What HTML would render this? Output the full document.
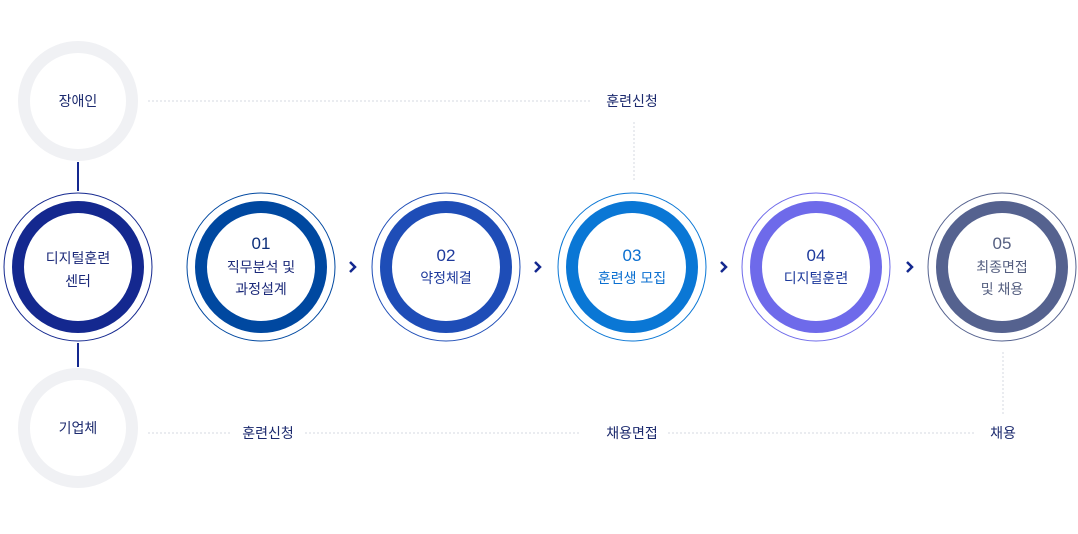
<!DOCTYPE html>
<html><head><meta charset="utf-8"><style>
body{margin:0;width:1078px;height:529px;background:#fff;overflow:hidden;font-family:"Liberation Sans","Noto Sans CJK KR",sans-serif}
svg text{font-family:"Liberation Sans","Noto Sans CJK KR",sans-serif}
</style></head><body>
<svg width="1078" height="529">
<g>
<line x1="78" y1="162" x2="78" y2="191" stroke="#14288f" stroke-width="2"/>
<line x1="78" y1="343" x2="78" y2="367" stroke="#14288f" stroke-width="2"/>
<line x1="148" y1="101" x2="590" y2="101" stroke="#d5d9e0" stroke-dasharray="2,2"/>
<line x1="634" y1="122" x2="634" y2="182" stroke="#d5d9e0" stroke-dasharray="2,2"/>
<line x1="148" y1="433" x2="230" y2="433" stroke="#d5d9e0" stroke-dasharray="2,2"/>
<line x1="305" y1="433" x2="580" y2="433" stroke="#d5d9e0" stroke-dasharray="2,2"/>
<line x1="668" y1="433" x2="975" y2="433" stroke="#d5d9e0" stroke-dasharray="2,2"/>
<line x1="1003" y1="352" x2="1003" y2="415" stroke="#d5d9e0" stroke-dasharray="2,2"/>
</g>
<g>
<circle cx="78" cy="101" r="54" fill="none" stroke="#f0f1f4" stroke-width="12"/>
<text x="78" y="106" text-anchor="middle" font-size="14" fill="#1c2a6e">장애인</text>
</g>
<g>
<circle cx="78" cy="428" r="54" fill="none" stroke="#f0f1f4" stroke-width="12"/>
<text x="78" y="433" text-anchor="middle" font-size="14" fill="#1c2a6e">기업체</text>
</g>
<g font-size="14" fill="#1c2a6e" text-anchor="middle">
<text x="632" y="106">훈련신청</text>
<text x="268" y="438">훈련신청</text>
<text x="632" y="438">채용면접</text>
<text x="1003" y="438">채용</text>
</g>
<g>
<circle cx="78" cy="267" r="74" fill="none" stroke="#14288f" stroke-width="1"/>
<circle cx="78" cy="267" r="60" fill="none" stroke="#14288f" stroke-width="12"/>
<text x="78" y="263" text-anchor="middle" font-size="14" fill="#1c2a7a">디지털훈련</text>
<text x="78" y="286" text-anchor="middle" font-size="14" fill="#1c2a7a">센터</text>
</g>
<g>
<circle cx="261" cy="267" r="74" fill="none" stroke="#0048a0" stroke-width="1"/>
<circle cx="261" cy="267" r="60" fill="none" stroke="#0048a0" stroke-width="12"/>
<text x="261" y="249" text-anchor="middle" font-size="17" fill="#0d2f7a">01</text>
<text x="261" y="272" text-anchor="middle" font-size="14" fill="#1c2a7a">직무분석 및</text>
<text x="261" y="294" text-anchor="middle" font-size="14" fill="#1c2a7a">과정설계</text>
</g>
<g>
<circle cx="446" cy="267" r="74" fill="none" stroke="#1e4db7" stroke-width="1"/>
<circle cx="446" cy="267" r="60" fill="none" stroke="#1e4db7" stroke-width="12"/>
<text x="446" y="261" text-anchor="middle" font-size="17" fill="#1e3a9c">02</text>
<text x="446" y="283" text-anchor="middle" font-size="14" fill="#1e3a9c">약정체결</text>
</g>
<g>
<circle cx="632" cy="267" r="74" fill="none" stroke="#0a77d5" stroke-width="1"/>
<circle cx="632" cy="267" r="60" fill="none" stroke="#0a77d5" stroke-width="12"/>
<text x="632" y="261" text-anchor="middle" font-size="17" fill="#0a6fd0">03</text>
<text x="632" y="283" text-anchor="middle" font-size="14" fill="#0a6fd0">훈련생 모집</text>
</g>
<g>
<circle cx="816" cy="267" r="74" fill="none" stroke="#6e6aea" stroke-width="1"/>
<circle cx="816" cy="267" r="60" fill="none" stroke="#6e6aea" stroke-width="12"/>
<text x="816" y="261" text-anchor="middle" font-size="17" fill="#1e3a9c">04</text>
<text x="816" y="283" text-anchor="middle" font-size="14" fill="#1e3a9c">디지털훈련</text>
</g>
<g>
<circle cx="1002" cy="267" r="74" fill="none" stroke="#55628f" stroke-width="1"/>
<circle cx="1002" cy="267" r="60" fill="none" stroke="#55628f" stroke-width="12"/>
<text x="1002" y="249" text-anchor="middle" font-size="17" fill="#555f80">05</text>
<text x="1002" y="272" text-anchor="middle" font-size="14" fill="#555f80">최종면접</text>
<text x="1002" y="294" text-anchor="middle" font-size="14" fill="#555f80">및 채용</text>
</g>
<g fill="none" stroke="#14288f" stroke-width="2.5">
<path d="M350 262 L355 267 L350 272"/>
<path d="M535 262 L540 267 L535 272"/>
<path d="M721 262 L726 267 L721 272"/>
<path d="M907 262 L912 267 L907 272"/>
</g>
</svg>
</body></html>
